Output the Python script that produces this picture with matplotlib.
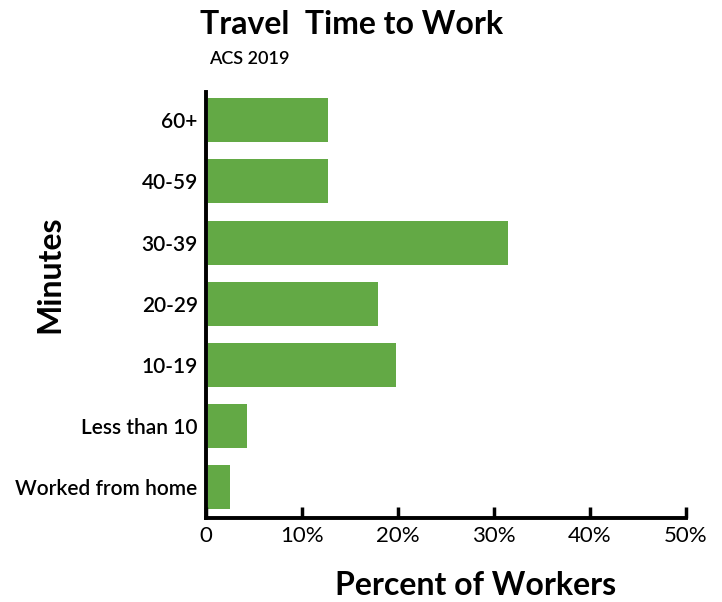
import matplotlib.pyplot as plt
from matplotlib.ticker import FuncFormatter

plt.rcParams['font.family'] = ['Lato', 'DejaVu Sans']

# data, bottom to top
categories = ["Worked from home", "Less than 10", "10-19", "20-29", "30-39", "40-59", "60+"]
percent = [2.3, 4.1, 19.6, 17.7, 31.3, 12.5, 12.5]
x_ticks = [0, 10, 20, 30, 40, 50]

fig = plt.figure(figsize=(7.22, 6.02), dpi=100)
ax = fig.add_axes([0.2853, 0.1395, 0.6648, 0.7075])

ax.barh(range(len(categories)), percent, height=0.72, color="#63a945", left=0.2)

ax.set_xlim(0, 50)
ax.set_ylim(-0.5, 6.46)
ax.set_yticks(range(len(categories)))
ax.set_yticklabels(categories, fontsize=15, fontweight="semibold")
ax.set_xticks(x_ticks)
ax.xaxis.set_major_formatter(FuncFormatter(lambda v, _: "0" if v == 0 else f"{v:.0f}%"))
ax.tick_params(axis="x", direction="in", length=8, width=2.5, labelsize=16, pad=6)
ax.tick_params(axis="y", length=0, pad=6)

for s in ["top", "right"]:
    ax.spines[s].set_visible(False)
for s in ["left", "bottom"]:
    ax.spines[s].set_linewidth(2.8)

fig.text(0.277, 0.960, "Travel  Time to Work", fontsize=23, fontweight="bold", va="center")
fig.text(0.29, 0.902, "ACS 2019", fontsize=13, fontweight="semibold", va="center")
fig.text(0.069, 0.545, "Minutes", fontsize=23, fontweight="bold", rotation=90, ha="center", va="center")
fig.text(0.659, 0.027, "Percent of Workers", fontsize=23, fontweight="bold", ha="center", va="center")

fig.savefig("out.png", dpi=100)
